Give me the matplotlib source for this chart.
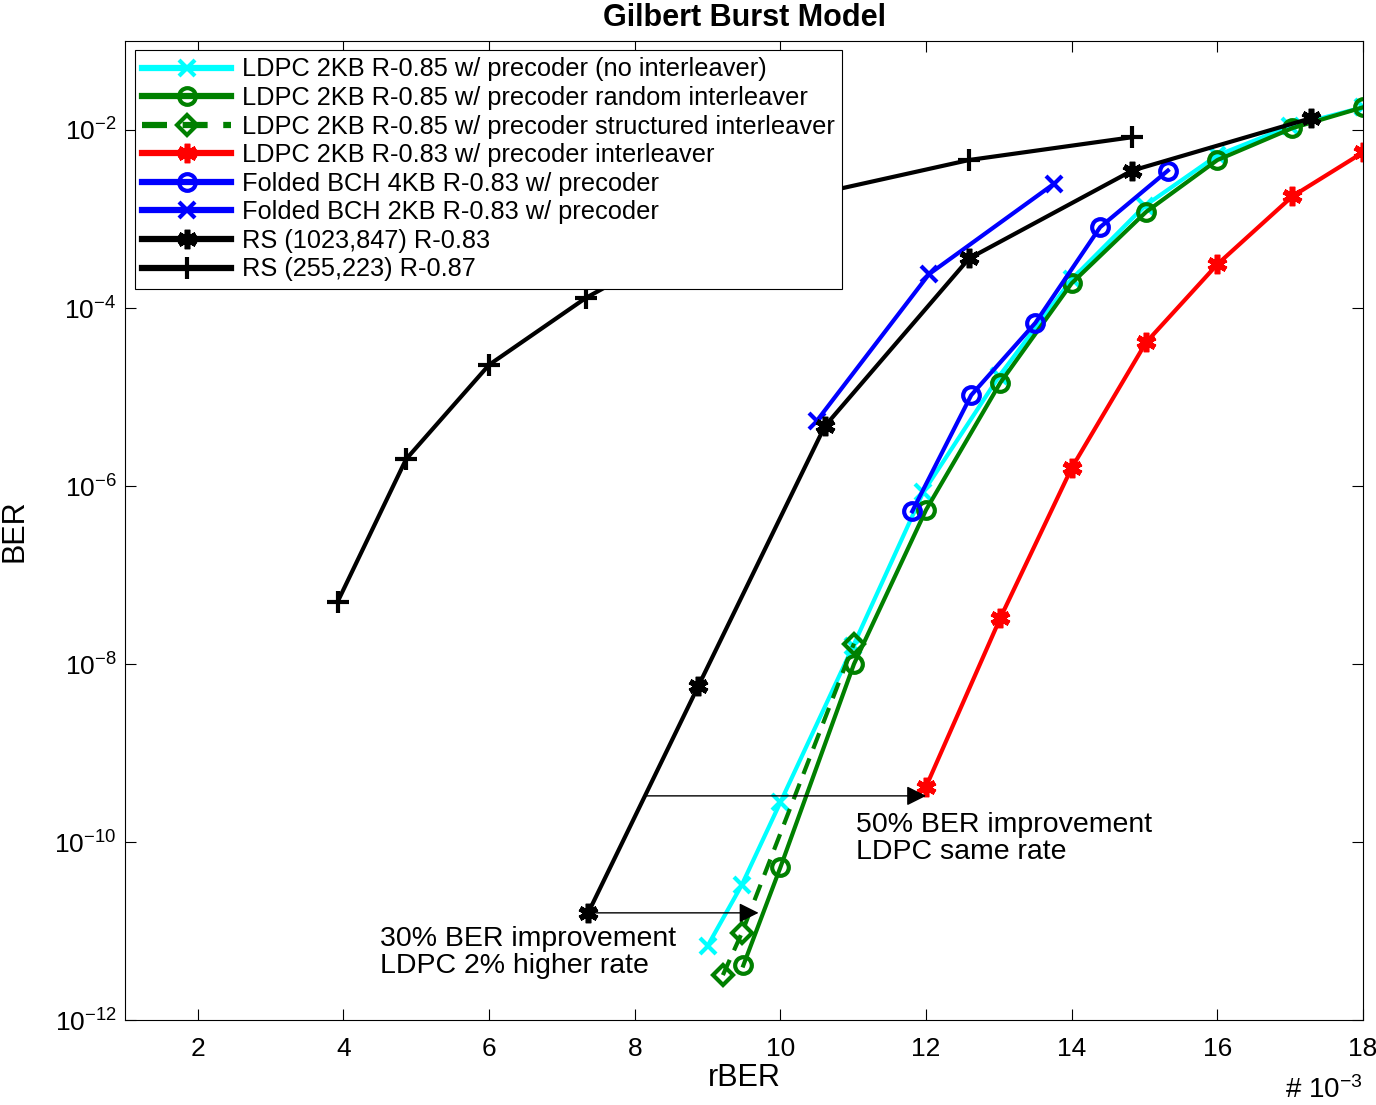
import numpy as np
import matplotlib.pyplot as plt
from matplotlib.ticker import FixedLocator, NullLocator

plt.rcParams['font.family'] = ['Liberation Sans', 'DejaVu Sans']
plt.rcParams['mathtext.default'] = 'regular'

# rBER values are in units of 1e-3
x_ldpc_noint = [9.0, 9.47, 10.0, 11.0, 11.96, 13.0, 14.0, 15.0, 16.0, 17.0, 18.0]
y_ldpc_noint = [6.8e-12, 3.3e-11, 2.8e-10, 1.6e-8, 8.5e-7, 1.7e-5, 2.1e-4, 1.4e-3, 5.2e-3, 1.1e-2, 1.8e-2]

x_ldpc_rand = [9.49, 10.0, 11.01, 12.0, 13.02, 14.0, 15.02, 16.0, 17.03, 18.0]
y_ldpc_rand = [4.1e-12, 5.2e-11, 1.0e-8, 5.4e-7, 1.45e-5, 1.9e-4, 1.2e-3, 4.6e-3, 1.05e-2, 1.8e-2]

x_ldpc_struct = [9.21, 9.47, 11.01]
y_ldpc_struct = [3.2e-12, 9.5e-12, 1.7e-8]

x_ldpc_083 = [12.0, 13.02, 14.0, 15.02, 16.0, 17.03, 18.0]
y_ldpc_083 = [4.2e-10, 3.3e-8, 1.6e-6, 4.1e-5, 3.1e-4, 1.8e-3, 5.6e-3]

x_bch4 = [11.81, 12.62, 13.5, 14.39, 15.32]
y_bch4 = [5.2e-7, 1.05e-5, 6.8e-5, 8.1e-4, 3.5e-3]

x_bch2 = [10.5, 12.04, 13.76]
y_bch2 = [5.4e-6, 2.4e-4, 2.5e-3]

x_rs1023 = [7.36, 8.87, 10.61, 12.59, 14.83, 17.29]
y_rs1023 = [1.6e-11, 5.6e-9, 4.7e-6, 3.6e-4, 3.5e-3, 1.36e-2]

x_rs255 = [3.92, 4.86, 6.0, 7.33, 8.8, 10.6, 12.59, 14.83]
y_rs255 = [5.0e-8, 2.0e-6, 2.3e-5, 1.3e-4, 6.0e-4, 2.0e-3, 4.6e-3, 8.3e-3]

labels = ["LDPC 2KB R-0.85 w/ precoder (no interleaver)",
          "LDPC 2KB R-0.85 w/ precoder random interleaver",
          "LDPC 2KB R-0.85 w/ precoder structured interleaver",
          "LDPC 2KB R-0.83 w/ precoder interleaver",
          "Folded BCH 4KB R-0.83 w/ precoder",
          "Folded BCH 2KB R-0.83 w/ precoder",
          "RS (1023,847) R-0.83",
          "RS (255,223) R-0.87"]

fig = plt.figure(figsize=(13.76, 11.05), dpi=100)
ax = fig.add_axes([0.0908, 0.0769, 0.8998, 0.886])

lw = 3
ms = 12
mew = 3
aster = (6, 2, 0)

ax.semilogy(x_ldpc_noint, y_ldpc_noint, color='cyan', lw=lw, marker='x', ms=ms, mew=mew, label=labels[0])
ax.semilogy(x_ldpc_rand, y_ldpc_rand, color='green', lw=lw, marker='o', ms=ms, mew=mew, mfc='none', label=labels[1])
ax.semilogy(x_ldpc_struct, y_ldpc_struct, color='green', lw=lw, ls=(0, (4, 2.5)), marker='D', ms=ms - 2, mew=mew, mfc='none', label=labels[2])
ax.semilogy(x_ldpc_083, y_ldpc_083, color='red', lw=lw, marker=aster, ms=ms + 2, mew=mew + 1, label=labels[3])
ax.semilogy(x_bch4, y_bch4, color='blue', lw=lw, marker='o', ms=ms, mew=mew, mfc='none', label=labels[4])
ax.semilogy(x_bch2, y_bch2, color='blue', lw=lw, marker='x', ms=ms, mew=mew, label=labels[5])
ax.semilogy(x_rs1023, y_rs1023, color='black', lw=lw, marker=aster, ms=ms + 2, mew=mew + 1, label=labels[6])
ax.semilogy(x_rs255, y_rs255, color='black', lw=lw, marker='+', ms=ms + 4, mew=mew, label=labels[7])

# annotation arrows
ax.annotate("", xy=(12.0, 3.3e-10), xytext=(8.15, 3.3e-10),
            arrowprops=dict(arrowstyle='-|>', color='black', lw=1, mutation_scale=30, shrinkA=0, shrinkB=0))
ax.annotate("", xy=(9.7, 1.6e-11), xytext=(7.36, 1.6e-11),
            arrowprops=dict(arrowstyle='-|>', color='black', lw=1, mutation_scale=30, shrinkA=0, shrinkB=0))
ax.text(11.04, 2.2e-10, "50% BER improvement\nLDPC same rate", fontsize=20.5, va='top', ha='left', linespacing=1.05)
ax.text(4.5, 1.15e-11, "30% BER improvement\nLDPC 2% higher rate", fontsize=20.5, va='top', ha='left', linespacing=1.05)

ax.set_xlim(1, 18)
ax.set_ylim(1e-12, 1e-1)
ax.xaxis.set_major_locator(FixedLocator([2, 4, 6, 8, 10, 12, 14, 16, 18]))
ax.yaxis.set_major_locator(FixedLocator([1e-12, 1e-10, 1e-8, 1e-6, 1e-4, 1e-2]))
ax.yaxis.set_minor_locator(NullLocator())
ax.set_yticklabels([r"$10^{-12}$", r"$10^{-10}$", r"$10^{-8}$", r"$10^{-6}$", r"$10^{-4}$", r"$10^{-2}$"])
ax.tick_params(direction='in', top=True, right=True, length=8, width=0.8, labelsize=19, pad=6)
ax.tick_params(axis='x', pad=12)

ax.set_title("Gilbert Burst Model", fontsize=22, fontweight='bold', pad=11)
ax.set_xlabel("rBER", fontsize=22, labelpad=2)
ax.set_ylabel("BER", fontsize=22)
ax.yaxis.set_label_coords(-0.077, 0.5)
ax.text(1.0, -0.057, r"# 10$^{-3}$", transform=ax.transAxes, fontsize=20, ha='right', va='top')

leg = ax.legend(loc='upper left', bbox_to_anchor=(0.008, 0.991), borderaxespad=0, fontsize=18.3,
                handlelength=3.5, labelspacing=0.18, fancybox=False, framealpha=1, edgecolor='black',
                borderpad=0.3, handletextpad=0.4)
leg.get_frame().set_linewidth(0.8)
for h in leg.get_lines():
    h.set_linewidth(4.5)

fig.savefig("out.png", dpi=100)
